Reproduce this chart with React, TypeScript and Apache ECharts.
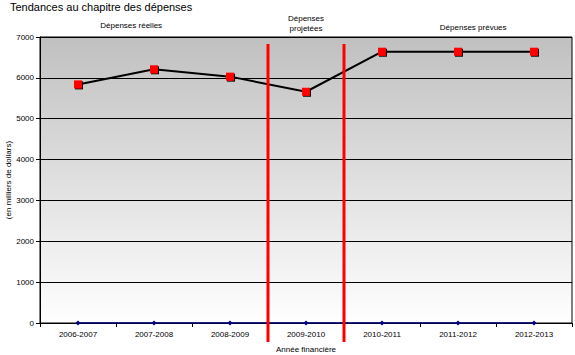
import React, { useEffect, useRef } from "react";
import * as echarts from "echarts";

const categories = ["2006-2007", "2007-2008", "2008-2009", "2009-2010", "2010-2011", "2011-2012", "2012-2013"];
const spending = [5840, 6210, 6030, 5660, 6640, 6640, 6640];
const baseline = [0, 0, 0, 0, 0, 0, 0];
const yTicks = [0, 1000, 2000, 3000, 4000, 5000, 6000, 7000];
const periodHeaders = ["Dépenses réelles", "Dépenses\nprojetées", "Dépenses prévues"];
const dividerAfterIndex = [2, 3];

const FONT = "Liberation Sans, Arial, sans-serif";

export default function App() {
  const ref = useRef<HTMLDivElement>(null);
  useEffect(() => {
    if (!ref.current) return;
    const chart = echarts.init(ref.current, null, { renderer: "svg" });
    chart.setOption({
      animation: false,
      backgroundColor: "#ffffff",
      textStyle: { fontFamily: FONT },
      grid: {
        left: 40,
        right: 3,
        top: 37,
        bottom: 32,
        containLabel: false,
        outerBoundsMode: "none",
        show: true,
        borderColor: "#000",
        borderWidth: 1,
        backgroundColor: new echarts.graphic.LinearGradient(0, 0, 0, 1, [
          { offset: 0, color: "#c0c0c0" },
          { offset: 1, color: "#ffffff" },
        ]),
      },
      xAxis: {
        type: "category",
        data: categories,
        boundaryGap: true,
        axisLine: { lineStyle: { color: "#000", width: 1 } },
        axisTick: { show: true, length: 4, lineStyle: { color: "#000" } },
        axisLabel: { fontSize: 8, color: "#000", margin: 7, fontFamily: FONT },
        name: "Année financière",
        nameLocation: "middle",
        nameGap: 22,
        nameMoveOverlap: false,
        nameTextStyle: { fontSize: 8, color: "#000", fontFamily: FONT },
        splitLine: { show: false },
      },
      yAxis: {
        type: "value",
        min: yTicks[0],
        max: yTicks[yTicks.length - 1],
        interval: 1000,
        axisLine: { show: true, lineStyle: { color: "#000", width: 1 } },
        axisTick: { show: true, length: 4, inside: false, lineStyle: { color: "#000" } },
        axisLabel: {
          fontSize: 8,
          color: "#000",
          margin: 6,
          fontFamily: FONT,
          formatter: (v: number) => String(v),
        },
        splitLine: { show: true, lineStyle: { color: "#000", width: 1 } },
        name: "(en milliers de dollars)",
        nameLocation: "middle",
        nameGap: 28,
        nameMoveOverlap: false,
        nameTextStyle: { fontSize: 8, color: "#000", fontFamily: FONT },
      },
      series: [
        {
          type: "line",
          data: baseline,
          symbol: "diamond",
          symbolSize: 5,
          lineStyle: { color: "#000080", width: 1.5 },
          itemStyle: { color: "#000080" },
          z: 3,
        },
        {
          type: "line",
          data: spending,
          symbol: "rect",
          symbolSize: 8,
          lineStyle: { color: "#000", width: 2 },
          itemStyle: {
            color: "#ff0000",
            shadowColor: "#000",
            shadowOffsetX: 1,
            shadowOffsetY: 1,
            shadowBlur: 0,
          },
          z: 4,
        },
      ],
    });

    const x0 = chart.convertToPixel({ xAxisIndex: 0 }, 0) as number;
    const x1 = chart.convertToPixel({ xAxisIndex: 0 }, 1) as number;
    const step = x1 - x0;
    const yTop = chart.convertToPixel({ yAxisIndex: 0 }, 7000) as number;
    const yBottom = chart.convertToPixel({ yAxisIndex: 0 }, 0) as number;
    const dividers = dividerAfterIndex.map((i) => {
      const x = (chart.convertToPixel({ xAxisIndex: 0 }, i) as number) + step / 2;
      return {
        type: "line",
        shape: { x1: x, y1: yTop + 7, x2: x, y2: yBottom + 19 },
        style: { stroke: "#ff0000", lineWidth: 3 },
        z: 10,
      };
    });
    const headerCenters = [x0 + step * 0.7, x0 + step * 3, x0 + step * 5.2];
    const headerY = [25, 23, 27];
    const headers = periodHeaders.map((t, i) => ({
      type: "text",
      x: headerCenters[i],
      y: headerY[i],
      style: {
        text: t,
        fontSize: 8,
        fill: "#000",
        fontFamily: FONT,
        align: "center",
        verticalAlign: "middle",
        lineHeight: 10,
      },
    }));

    chart.setOption({
      graphic: [
        {
          type: "text",
          x: 10,
          y: 1,
          style: {
            text: "Tendances au chapitre des dépenses",
            fontSize: 11,
            fill: "#000",
            fontFamily: FONT,
            verticalAlign: "top",
          },
        },
        ...headers,
        ...dividers,
      ],
    });
    return () => chart.dispose();
  }, []);
  return (
    <div
      ref={ref}
      style={{ position: "fixed", left: 0, top: 0, width: 575, height: 355 }}
    />
  );
}
